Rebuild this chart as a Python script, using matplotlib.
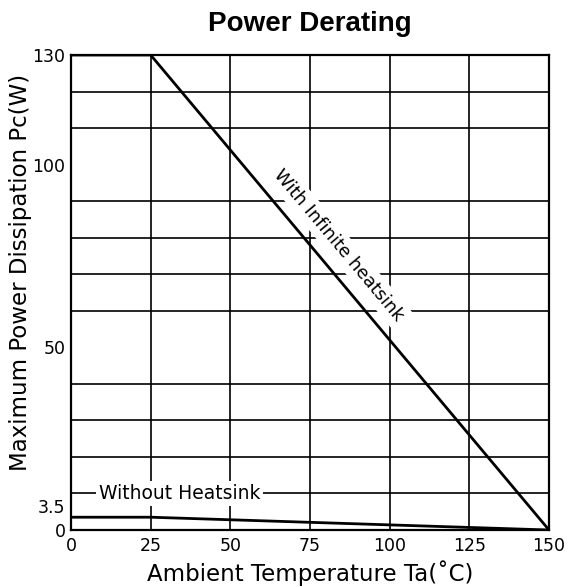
import numpy as np
import matplotlib
matplotlib.use('Agg')
import matplotlib.pyplot as plt

# derating curves (Ta in degC, Pc in W)
ta_heatsink = [0, 25, 150]
pc_heatsink = [130, 130, 0]

ta_free = [0, 25, 150]
pc_free = [3.5, 3.5, 0]

x_ticks = [0, 25, 50, 75, 100, 125, 150]
y_ticks = [0, 3.5, 50, 100, 130]
y_ticks_txt = ['0', '3.5', '50', '100', '130']
y_grid = np.arange(0, 131, 10)

plt.rcParams['font.family'] = ['DejaVu Sans']

fig = plt.figure(figsize=(5.69, 5.87), dpi=100)
ax = fig.add_axes([0.1248, 0.0971, 0.8401, 0.8092])

ax.set_xlim(0, 150)
ax.set_ylim(0, 130)

# grid: vertical every 25, horizontal every 10
ax.set_xticks(x_ticks)
ax.set_yticks(y_ticks)
ax.set_yticklabels(y_ticks_txt)
ax.set_yticks(y_grid, minor=True)
ax.grid(True, axis='x', which='major', color='black', linewidth=1.2)
ax.grid(True, axis='y', which='minor', color='black', linewidth=1.2)
ax.set_axisbelow(True)
ax.tick_params(axis='both', which='both', length=0, labelsize=12.5, colors='black')
ax.tick_params(axis='x', pad=5)
ax.tick_params(axis='y', pad=4)
# keep "3.5" clear of "0"
ax.get_yticklabels()[1].set_va('bottom')
for s in ax.spines.values():
    s.set_linewidth(1.6)

ax.plot(ta_heatsink, pc_heatsink, color='black', linewidth=2.0, zorder=4)
ax.plot(ta_free, pc_free, color='black', linewidth=2.0, zorder=4)

# label along the sloped line, rotated to its on-screen angle
p0 = ax.transData.transform((ta_heatsink[1], pc_heatsink[1]))
p1 = ax.transData.transform((ta_heatsink[2], pc_heatsink[2]))
ang = np.degrees(np.arctan2(p1[1] - p0[1], p1[0] - p0[0]))
ax.text(84, 78, 'With Infinite heatsink', rotation=ang, rotation_mode='anchor',
        ha='center', va='center', fontsize=13, zorder=3,
        bbox=dict(facecolor='white', edgecolor='none', pad=3))
ax.text(34, 10, 'Without Heatsink', ha='center', va='center', fontsize=13.5, zorder=3,
        bbox=dict(facecolor='white', edgecolor='none', pad=2))

ax.set_title('Power Derating', fontsize=20, fontweight='bold', family='Liberation Sans', pad=17)
ax.set_xlabel('Ambient Temperature Ta(\u02daC)', fontsize=16.5, labelpad=4)
ax.set_ylabel('Maximum Power Dissipation Pc(W)', fontsize=16.5)
ax.yaxis.set_label_coords(-0.082, 0.543)

fig.savefig('out.png', dpi=100)
